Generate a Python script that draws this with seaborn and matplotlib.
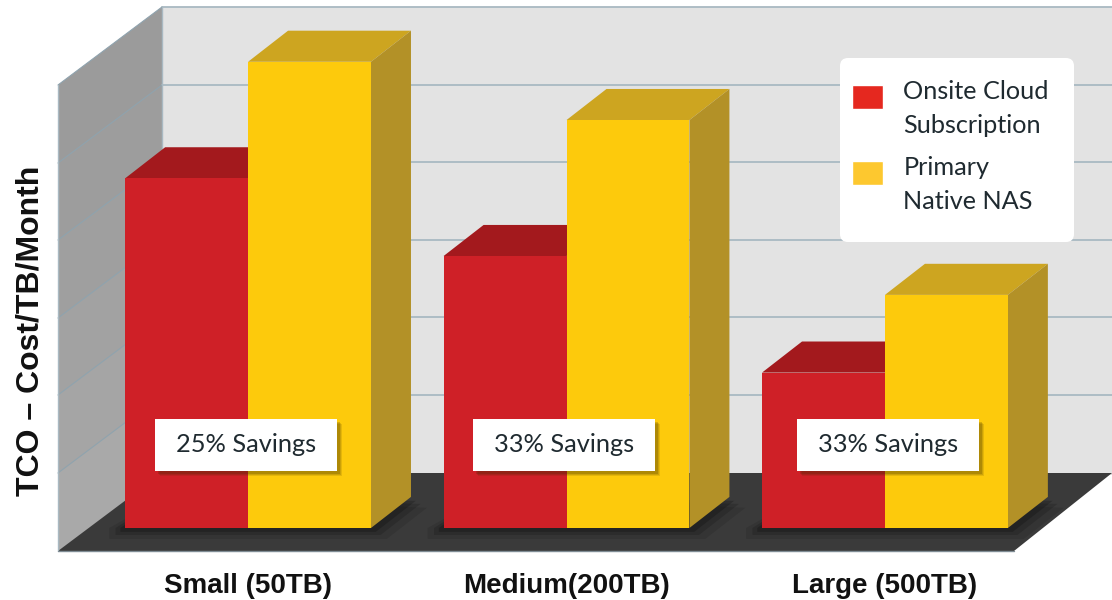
import matplotlib
matplotlib.use("Agg")
import matplotlib.pyplot as plt
from matplotlib.legend_handler import HandlerPatch
from matplotlib.patches import FancyBboxPatch, Polygon, Rectangle
from matplotlib.transforms import Affine2D
import pandas as pd
import seaborn as sns

sizes = ["Small (50TB)", "Medium(200TB)", "Large (500TB)"]
onsite = [4.5, 3.5, 2.0]
native = [6.0, 5.25, 3.0]
savings = ["25% Savings", "33% Savings", "33% Savings"]
series_names = ["Onsite Cloud\nSubscription", "Primary\nNative NAS"]

df = pd.DataFrame({
    "size": sizes * 2,
    "series": [series_names[0]] * 3 + [series_names[1]] * 3,
    "cost": onsite + native,
})

sns.set_theme(style="white")
plt.rcParams["font.family"] = ["Liberation Sans", "DejaVu Sans"]

fig = plt.figure(figsize=(11.12, 6), dpi=100)
ax = fig.add_axes([0, 48 / 600, 1, 552 / 600])
ax.patch.set_alpha(0)
ax.set_zorder(1)

# pixel positions for the fake 3D room, y measured from the top
px = Affine2D().scale(1, -1).translate(0, 600)

def room(points, color, z=0.1):
    fig.add_artist(Polygon(points, closed=True, facecolor=color, edgecolor="none", transform=px, zorder=z))

room([(162, 7), (1112, 7), (1112, 475), (162, 475)], "#e3e3e3")

# left wall gets a little lighter towards the floor
wall_bands = ["#9b9b9b", "#9d9d9d", "#9f9f9f", "#a2a2a2", "#a5a5a5", "#a9a9a9"]
grid_y = [7, 85, 162, 240, 317, 395, 473]
for i, color in enumerate(wall_bands):
    y0, y1 = grid_y[i], grid_y[i + 1]
    room([(58, y0 + 78), (162, y0), (162, y1 + 1), (58, y1 + 79)], color)
room([(58, 551), (162, 473), (1112, 473), (1014, 551)], "#3a3a3a", z=0.2)

for y in grid_y[:-1]:
    fig.add_artist(plt.Line2D([162, 1112], [y, y], color="#a9b9c2", lw=1.3, transform=px, zorder=0.3))
    fig.add_artist(plt.Line2D([58, 162], [y + 78, y], color="#8fa3ae", lw=0.8, transform=px, zorder=0.3))
fig.add_artist(plt.Line2D([162, 162], [7, 473], color="#a9b9c2", lw=1.0, transform=px, zorder=0.3))
fig.add_artist(plt.Line2D([58, 58], [85, 551], color="#a9b9c2", lw=1.0, transform=px, zorder=0.3))
fig.add_artist(plt.Line2D([58, 1014], [551, 551], color="#7f8c94", lw=1.0, transform=px, zorder=0.3))

palette = {series_names[0]: "#cf2027", series_names[1]: "#fdca0c"}
sns.barplot(data=df, x="size", y="cost", hue="series", order=sizes, hue_order=series_names,
            palette=palette, saturation=1, width=0.772, gap=0, linewidth=0, ax=ax, legend=False)

ax.set_xlim(-0.779, 2.713)
ax.set_ylim(-0.309, 6.795)
for s in ax.spines.values():
    s.set_visible(False)
ax.set_yticks([])
ax.tick_params(axis="x", length=0, pad=15)
ax.set_xlabel("")
for label in ax.get_xticklabels():
    label.set_fontsize(20)
    label.set_fontweight("bold")
    label.set_color("#111111")

ax.set_ylabel("TCO – Cost/TB/Month", fontsize=23, fontweight="bold", color="#111111")
ax.yaxis.set_label_coords(46 / 1112, 0.40)

# extrude the seaborn bars
depth_x = 0.1256
depth_y = 0.4
top_colors = ["#a3191d", "#cda520"]
side_colors = ["#8c1519", "#b39127"]
for k, container in enumerate(ax.containers):
    for bar in container:
        x0, w, h = bar.get_x(), bar.get_width(), bar.get_height()
        bar.set_zorder(2 + k)
        ax.add_patch(Polygon([(x0, h), (x0 + w, h), (x0 + w + depth_x, h + depth_y), (x0 + depth_x, h + depth_y)],
                             facecolor=top_colors[k], edgecolor="none", zorder=1.5 + k))
        ax.add_patch(Polygon([(x0 + w, 0), (x0 + w + depth_x, depth_y), (x0 + w + depth_x, h + depth_y), (x0 + w, h)],
                             facecolor=side_colors[k], edgecolor="none", zorder=1.5 + k))

# soft shadow on the floor, one per pair of bars
for red, yellow in zip(*ax.containers):
    x0, x1 = red.get_x(), yellow.get_x() + yellow.get_width()
    for gx, gy, a in [(0.05, 0.14, 0.1), (0.03, 0.09, 0.15), (0.015, 0.05, 0.2)]:
        ax.add_patch(Polygon([(x0 - gx, -gy), (x1 + gx, -gy), (x1 + depth_x + gx, depth_y - gy),
                              (x0 + depth_x, depth_y), (x0 - gx, 0)],
                             facecolor="black", edgecolor="none", alpha=a, zorder=1))

# savings labels
box_left = [155, 473, 797]
for left, text in zip(box_left, savings):
    for off, a in [(5, 0.12), (4, 0.15), (3, 0.2)]:
        fig.add_artist(Rectangle((left + off, 419 + off), 182, 52, facecolor="#3a2a00", edgecolor="none",
                                 alpha=a, transform=px, zorder=6))
    fig.add_artist(Rectangle((left, 419), 182, 52, facecolor="white", edgecolor="none", transform=px, zorder=7))
    fig.text(left + 91, 445, text, transform=px, ha="center", va="center", fontsize=18.3, family="Lato",
             color="#1f2a30", zorder=8)

# legend, swatches sit next to the first line of each label
fig.add_artist(FancyBboxPatch((848, 66), 218, 168, boxstyle="round,pad=8,rounding_size=8", facecolor="white",
                              edgecolor="none", transform=px, zorder=0.5))

def first_line_swatch(legend, orig_handle, xdescent, ydescent, width, height, fontsize):
    return Rectangle((-xdescent, -ydescent + 9), width, height)

handles = [Rectangle((0, 0), 1, 1, facecolor="#e5281f"), Rectangle((0, 0), 1, 1, facecolor="#fdc82f")]
leg = ax.legend(handles, series_names, loc="upper left", bbox_to_anchor=(852 / 1112, 1 - 80 / 552),
                frameon=False, prop={"family": "Lato", "size": 18.2}, labelcolor="#1f2a30",
                handlelength=1.23, handleheight=1.05, handletextpad=0.8, labelspacing=0.75,
                borderpad=0, borderaxespad=0,
                handler_map={Rectangle: HandlerPatch(patch_func=first_line_swatch)})
for t in leg.get_texts():
    t.set_linespacing(1.59)
leg.set_zorder(9)

fig.savefig("out.png", dpi=100)
